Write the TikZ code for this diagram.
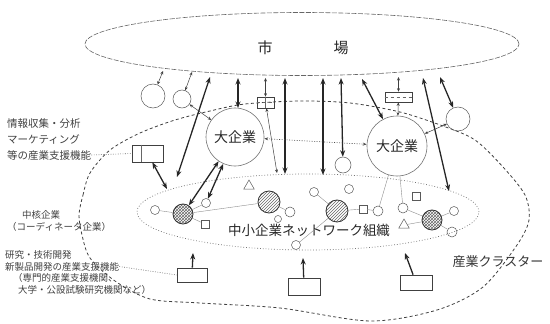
\documentclass[tikz,border=0pt]{standalone}
\usepackage{fontspec}
\setmainfont{Noto Sans CJK JP}
\usetikzlibrary{shapes.geometric,arrows.meta,patterns}
\begin{document}
\begin{tikzpicture}[x=1pt,y=-1pt,
  thk/.style={draw=black!85, line width=1.3pt, {Stealth[length=6.5pt,width=5pt]}-{Stealth[length=6.5pt,width=5pt]}},
  thkup/.style={draw=black!85, line width=1.3pt, -{Stealth[length=6.5pt,width=5pt]}},
  thn/.style={draw=black!75, line width=0.5pt, {Stealth[length=3.5pt,width=3pt]}-{Stealth[length=3.5pt,width=3pt]}},
  dotarr/.style={draw=black!70, line width=0.6pt, dash pattern=on 1pt off 1.5pt, {Stealth[length=4pt,width=3pt]}-{Stealth[length=4pt,width=3pt]}},
  leader/.style={draw=black!60, line width=0.6pt, dash pattern=on 0.8pt off 1.6pt},
  netl/.style={draw=black!45, line width=0.4pt},
  sm/.style={circle, draw=black!65, line width=0.5pt, inner sep=0, minimum size=#1},
  sq/.style={rectangle, draw=black!65, line width=0.5pt, inner sep=0, minimum size=8},
  tri/.style={regular polygon, regular polygon sides=3, draw=black!65, line width=0.5pt, inner sep=0, minimum size=12},
  hat/.style={circle, draw=black!80, line width=0.8pt, inner sep=0, minimum size=22, pattern=north east lines, pattern color=black!60},
  crs/.style={circle, draw=black!80, line width=0.8pt, inner sep=0, minimum size=20, pattern=crosshatch, pattern color=black!60},
  bx/.style={rectangle, draw=black!75, line width=0.6pt, inner sep=0},
  big/.style={circle, draw=black!55, line width=0.6pt, inner sep=0, minimum size=#1, font=\fontsize{14}{16}\selectfont, text=black!85},
  lblA/.style={anchor=west, inner sep=0, font=\fontsize{10.5}{12}\selectfont, text=black!75},
  lblB/.style={anchor=west, inner sep=0, font=\fontsize{9.5}{11}\selectfont, text=black!75}
]
\useasboundingbox (0,0) rectangle (550,324);

% market
\node[ellipse, draw=black!60, line width=0.6pt, dash pattern=on 5pt off 1.5pt, minimum width=434, minimum height=63, inner sep=0] (market) at (302,44) {};
\node[font=\fontsize{15}{17}\selectfont, text=black!85] (shi) at (265,48) {市};
\node[font=\fontsize{15}{17}\selectfont, text=black!85] (ba) at (341,48) {場};

% cluster
\draw[draw=black!75, line width=0.8pt, dash pattern=on 3pt off 2.5pt]
  plot[smooth cycle] coordinates {(79,215) (83,195) (90,173) (110,150) (140,133) (175,120) (210,111) (245,104) (300,101) (350,103) (400,112) (443,126) (475,140) (503,167) (525,195) (529,220) (517,245) (483,287) (437,310) (370,321) (280,308) (200,303) (150,299) (115,281) (90,258) (82,235)};

% network
\node[ellipse, draw=black!55, line width=0.7pt, dash pattern=on 0.8pt off 2pt, minimum width=342, minimum height=76, inner sep=0] (network) at (308,212) {};
\node[font=\fontsize{13.5}{15}\selectfont, text=black!85, inner sep=0] (nettext) at (309,230) {中小企業ネットワーク組織};

% big companies
\node[big=58] (bigL) at (235,137) {大企業};
\node[big=60] (bigR) at (397,146) {大企業};

% small circles outside
\node[sm=24] (sc1) at (153,96) {};
\node[sm=18] (sc2) at (182,99) {};
\node[sm=24] (sc3) at (458,119) {};

% boxes
\node[bx, minimum width=17, minimum height=11] (boxA) at (265.5,102.5) {};
\node[bx, minimum width=27, minimum height=10] (boxB) at (398.5,97) {};
\node[bx, minimum width=31, minimum height=17] (boxL) at (147.5,153.5) {};
\node[bx, minimum width=30, minimum height=14] (box1) at (192,275) {};
\node[bx, minimum width=32, minimum height=17] (box2) at (304,286.5) {};
\node[bx, minimum width=32, minimum height=15] (box3) at (416,282.5) {};
\draw[black!60, line width=0.4pt, dashed] (boxA.west) -- (boxA.east);
\draw[black!60, line width=0.4pt] (boxA.north) -- (boxA.south);
\draw[black!60, line width=0.4pt, dashed] (boxB.west) -- (boxB.east);
\draw[black!60, line width=0.4pt] ([xshift=9pt]boxL.north west) -- ([xshift=9pt]boxL.south west);

% network nodes
\node[hat] (hatL) at (269,202) {};
\node[hat] (hatR) at (337,211) {};
\node[crs] (crossL) at (183,214) {};
\node[crs] (crossR) at (432,220) {};
\node[sm=9] (n1) at (155,210) {};
\node[sm=9] (n2) at (206,203) {};
\node[sq] (n3) at (205,224) {};
\node[tri] (n4) at (249,186) {};
\node[sm=16] (n5) at (343,165) {};
\node[sm=9] (n6) at (314,192) {};
\node[sm=9] (n7) at (349,189) {};
\node[sq] (n8) at (416,196) {};
\node[sq] (n9) at (363,209) {};
\node[sm=10] (n10) at (378,211) {};
\node[sm=10] (n11) at (403,208) {};
\node[tri] (n12) at (404,225) {};
\node[sm=9] (n13) at (454,211) {};
\node[sm=10] (n14) at (452,232) {};
\node[sm=10] (n15) at (290,212) {};
\node[sm=7] (n16) at (278,219) {};
\node[sm=9] (n17) at (296,245) {};

% network links
\draw[netl] (crossL) -- (hatL);
\draw[netl] (crossL) -- (n2);
\draw[netl] (crossL) -- (n3);
\draw[netl] (crossL) -- (n1);
\draw[netl] (hatL) -- (n15);
\draw[netl] (hatR) -- (n6);
\draw[netl] (hatR) -- (n9);
\draw[netl] (n9) -- (n10);
\draw[netl] (hatR) -- (n17);
\draw[netl] (bigR) -- (n10);
\draw[netl] (bigR) -- (n11);
\draw[netl] (n11) -- (crossR);
\draw[netl] (crossR) -- (n13);
\draw[netl] (crossR) -- (n14);
\draw[netl] (crossR) -- (n12);

% coordinates on market / network
\coordinate (ma1) at (163,71);
\coordinate (ma2) at (192,72);
\coordinate (ma3) at (210,77);
\coordinate (ma4) at (238,78);
\coordinate (ma5) at (265.5,78);
\coordinate (ma6) at (285,78);
\coordinate (ma7) at (323,78);
\coordinate (ma8) at (341,78);
\coordinate (ma9) at (362,79);
\coordinate (ma10) at (398.5,77);
\coordinate (ma11) at (423,78);
\coordinate (ma12) at (440,77);
\coordinate (nw1) at (177,177);
\coordinate (nw2) at (277,173);
\coordinate (nw3) at (285,174);
\coordinate (nw4) at (323,175);
\coordinate (nw5) at (449,191);
\coordinate (nw6) at (167,189);
\coordinate (t1) at (193,253);
\coordinate (t2) at (303,258);
\coordinate (t3) at (405,253);
\coordinate (ma4b) at (238,108);

% arrows
\draw[thn] (ma1) -- (sc1);
\draw[thn] (ma2) -- (sc2);
\draw[thk] (ma3) -- (nw1);
\draw[thk] (ma4) -- (ma4b);
\draw[thn] (ma5) -- (boxA);
\draw[thn] (boxA) -- (nw2);
\draw[thk] (ma6) -- (nw3);
\draw[thk] (ma7) -- (nw4);
\draw[thk] (ma8) -- (n5);
\draw[thk] (ma9) -- (bigR);
\draw[thn] (ma10) -- (boxB);
\draw[thn] (boxB) -- (bigR);
\draw[thk] (ma11) -- (nw5);
\draw[thk] (ma12) -- (sc3);
\draw[thn] (sc3) -- (bigR);
\draw[thn] (sc2) -- (bigL);
\draw[dotarr] (bigL) -- (bigR);
\draw[thk] (boxL) -- (nw6);
\draw[thk] (bigL) -- (crossL);
\draw[thk] (bigL) -- (n2);
\draw[thkup] (box1) -- (t1);
\draw[thkup] (box2) -- (t2);
\draw[thkup] (box3) -- (t3);

% labels
\node[lblA] (l1) at (7,124) {情報収集・分析};
\node[lblA] (l2) at (7,139.5) {マーケティング};
\node[lblA] (l3) at (7,155) {等の産業支援機能};
\node[lblB] (l4) at (22,215) {中核企業};
\node[lblB] (l5) at (7,227) {（コーディネータ企業）};
\node[lblB] (l6) at (5,255) {研究・技術開発};
\node[lblB] (l7) at (5,266.5) {新製品開発の産業支援機能};
\node[lblB] (l8) at (13,278) {（専門的産業支援機関、};
\node[lblB] (l9) at (18,290) {大学・公設試験研究機関など）};
\node[font=\fontsize{13}{15}\selectfont, text=black!80, inner sep=0] (clabel) at (498,262) {産業クラスター};

\draw[leader] (l3.east) -- (boxL.west);
\draw[leader] (l7.east) -- (box1.west);
\end{tikzpicture}
\end{document}
